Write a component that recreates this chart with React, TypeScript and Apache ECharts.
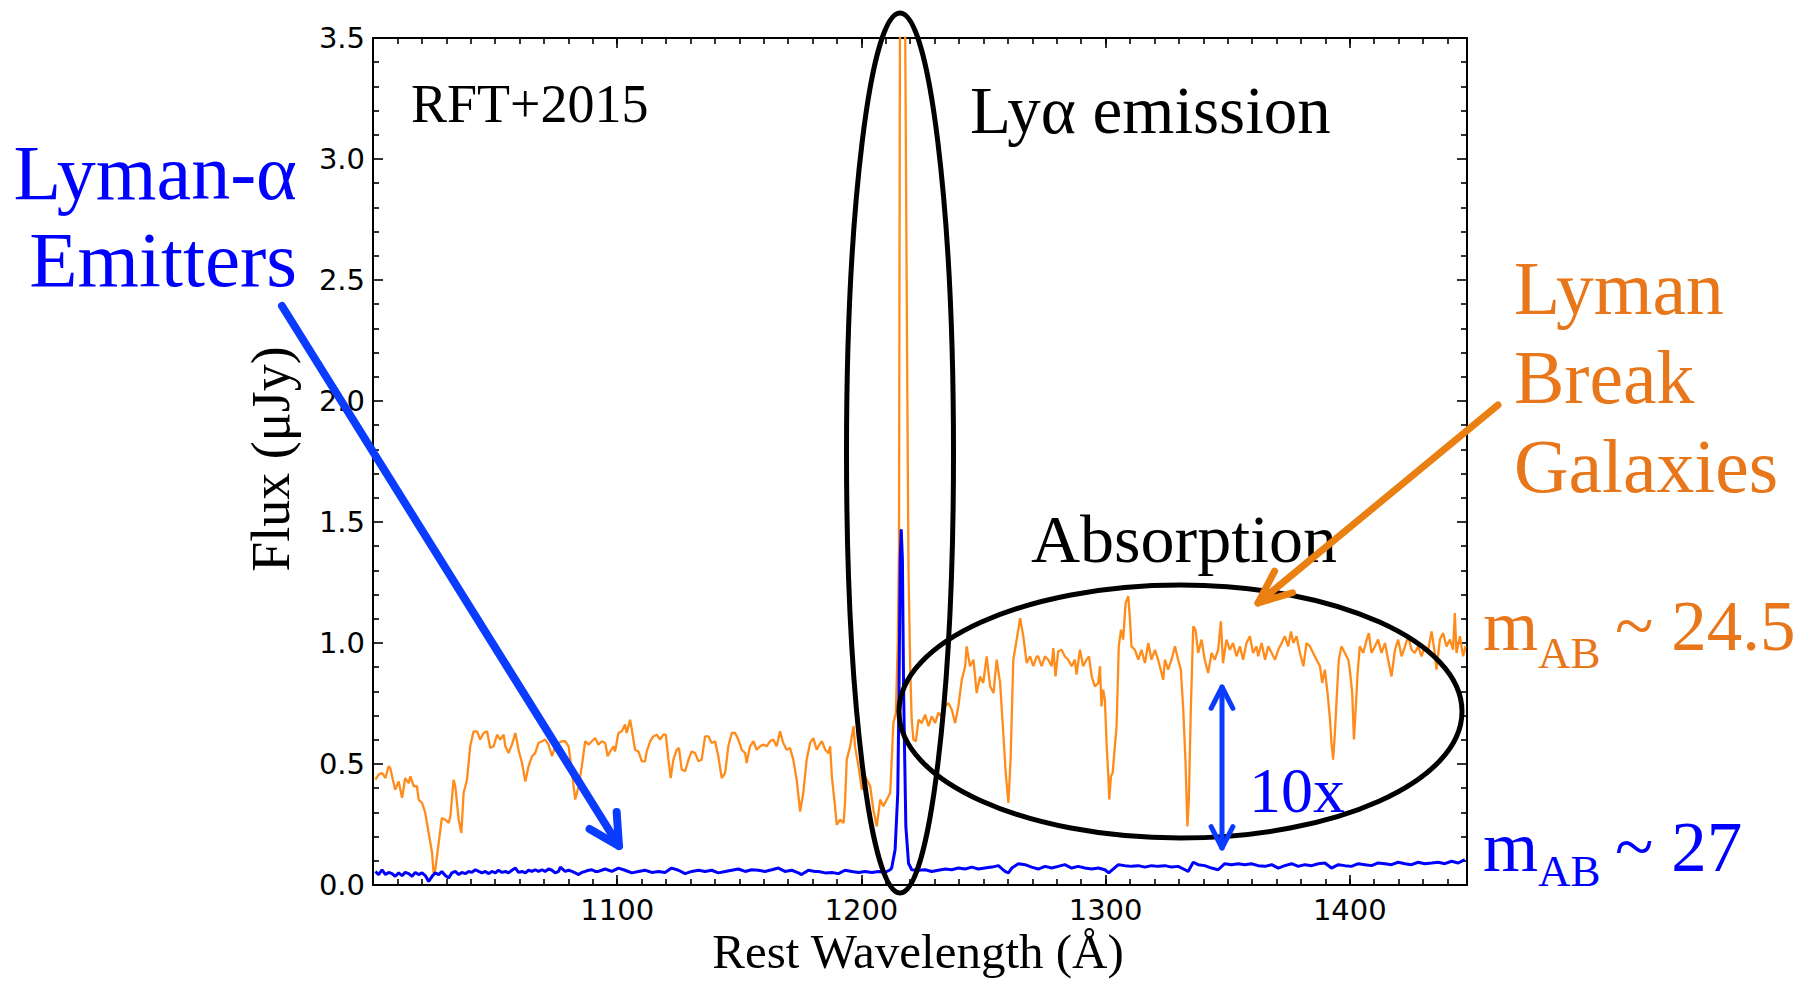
import React, { useEffect, useRef } from "react";
import * as echarts from "echarts";

// Lyman Break Galaxy composite spectrum (orange): [rest wavelength Å, flux µJy]
const lbgSpectrum: [number, number][] = [
  [1001.0,0.435],[1002.3,0.456],[1003.7,0.463],[1005.1,0.442],[1006.4,0.490],[1007.1,0.483],[1007.8,0.449],[1009.1,0.394],
  [1010.5,0.428],[1011.9,0.360],[1013.2,0.442],[1014.6,0.421],[1015.3,0.449],[1016.7,0.408],[1018.0,0.408],[1018.7,0.353],
  [1020.1,0.339],[1021.4,0.298],[1022.8,0.215],[1024.2,0.132],[1024.8,0.050],[1025.5,0.063],[1026.9,0.174],[1028.2,0.277],
  [1029.6,0.270],[1031.0,0.256],[1031.7,0.284],[1033.0,0.435],[1033.7,0.408],[1035.1,0.270],[1036.2,0.215],[1037.1,0.380],
  [1038.5,0.435],[1039.8,0.573],[1041.2,0.635],[1042.6,0.635],[1043.9,0.601],[1045.3,0.628],[1046.7,0.635],[1048.0,0.566],
  [1049.4,0.573],[1050.8,0.621],[1052.1,0.601],[1053.5,0.621],[1054.2,0.573],[1055.5,0.545],[1056.9,0.580],[1058.3,0.628],
  [1059.6,0.559],[1061.0,0.504],[1062.4,0.428],[1063.7,0.490],[1065.1,0.532],[1066.4,0.545],[1067.8,0.587],[1069.2,0.594],
  [1070.5,0.601],[1071.9,0.580],[1073.3,0.532],[1074.6,0.573],[1076.0,0.587],[1077.4,0.594],[1078.7,0.594],[1080.1,0.573],
  [1081.5,0.463],[1082.8,0.353],[1084.2,0.408],[1085.5,0.490],[1086.9,0.594],[1088.3,0.580],[1089.6,0.594],[1091.0,0.607],
  [1092.3,0.580],[1093.7,0.594],[1095.1,0.587],[1096.1,0.532],[1097.1,0.552],[1098.5,0.573],[1099.1,0.552],[1100.5,0.628],
  [1101.9,0.635],[1103.2,0.663],[1103.9,0.628],[1105.3,0.683],[1106.0,0.642],[1107.3,0.559],[1108.7,0.552],[1110.1,0.511],
  [1111.4,0.511],[1112.1,0.552],[1113.5,0.594],[1114.8,0.614],[1116.2,0.621],[1117.6,0.601],[1118.9,0.621],[1119.9,0.621],
  [1121.0,0.518],[1121.9,0.442],[1123.0,0.518],[1124.4,0.559],[1125.3,0.566],[1126.4,0.477],[1127.8,0.470],[1129.2,0.518],
  [1130.5,0.552],[1131.9,0.545],[1133.3,0.511],[1134.6,0.518],[1136.0,0.614],[1137.4,0.614],[1138.7,0.587],[1140.1,0.594],
  [1141.4,0.532],[1142.8,0.442],[1144.2,0.463],[1145.5,0.573],[1146.9,0.628],[1148.3,0.628],[1149.6,0.601],[1151.0,0.559],
  [1152.4,0.545],[1153.0,0.504],[1154.4,0.573],[1155.8,0.594],[1157.1,0.559],[1158.5,0.573],[1159.9,0.580],[1161.2,0.573],
  [1162.6,0.594],[1163.9,0.601],[1165.3,0.573],[1166.7,0.635],[1168.0,0.587],[1169.4,0.559],[1170.8,0.566],[1172.1,0.518],
  [1173.5,0.435],[1174.9,0.304],[1176.2,0.380],[1177.6,0.518],[1179.0,0.587],[1180.3,0.607],[1181.7,0.559],[1182.4,0.573],
  [1183.8,0.594],[1185.2,0.559],[1186.5,0.545],[1187.2,0.573],[1187.9,0.449],[1189.2,0.325],[1189.9,0.249],[1191.3,0.270],
  [1192.7,0.256],[1193.3,0.339],[1194.0,0.518],[1195.4,0.573],[1196.8,0.656],[1197.4,0.573],[1198.8,0.490],[1200.2,0.394],
  [1201.5,0.449],[1203.6,0.408],[1204.9,0.311],[1206.3,0.242],[1207.7,0.353],[1209.0,0.325],[1210.4,0.353],[1211.8,0.380],
  [1213.1,0.669],[1214.1,0.711],[1214.9,1.000],[1215.4,1.400],[1215.8,3.600],[1216.6,7.500],[1217.3,7.000],[1217.9,3.600],
  [1218.7,2.200],[1219.3,1.300],[1220.0,0.890],[1220.6,0.683],[1221.3,0.601],[1222.3,0.594],[1223.4,0.683],[1224.7,0.669],
  [1226.1,0.704],[1227.5,0.656],[1228.8,0.697],[1230.2,0.669],[1231.5,0.711],[1232.9,0.697],[1234.3,0.738],[1235.6,0.752],
  [1237.0,0.725],[1238.4,0.669],[1239.7,0.738],[1241.1,0.848],[1242.5,0.904],[1243.1,0.986],[1244.5,0.904],[1245.9,0.931],
  [1247.2,0.793],[1248.6,0.862],[1249.9,0.835],[1251.3,0.945],[1252.7,0.821],[1254.1,0.793],[1255.4,0.931],[1256.8,0.835],
  [1258.1,0.628],[1259.1,0.463],[1260.2,0.339],[1261.1,0.518],[1262.2,0.931],[1263.6,1.014],[1265.0,1.103],[1266.3,1.028],
  [1267.7,0.917],[1269.1,0.945],[1270.4,0.904],[1271.8,0.945],[1272.4,0.945],[1273.8,0.904],[1275.2,0.945],[1276.5,0.931],
  [1277.9,0.904],[1278.6,0.979],[1279.5,0.862],[1280.6,0.966],[1282.0,0.972],[1283.3,0.945],[1284.7,0.931],[1286.1,0.904],
  [1287.4,0.931],[1288.1,0.869],[1289.5,0.972],[1290.8,0.904],[1292.2,0.931],[1293.2,0.945],[1294.3,0.862],[1295.6,0.821],
  [1297.0,0.835],[1297.7,0.904],[1298.3,0.738],[1299.0,0.807],[1299.7,0.766],[1300.4,0.587],[1301.1,0.449],[1301.5,0.353],
  [1302.2,0.449],[1302.9,0.463],[1303.8,0.573],[1304.5,0.656],[1305.4,0.986],[1306.3,1.055],[1307.2,1.014],[1308.2,1.165],
  [1309.3,1.193],[1309.9,1.110],[1310.6,0.986],[1312.0,0.972],[1313.4,0.931],[1314.7,0.972],[1316.1,0.917],[1317.5,1.000],
  [1318.8,0.931],[1320.2,0.972],[1321.5,0.931],[1322.9,0.876],[1323.6,0.848],[1324.3,0.931],[1325.6,0.890],[1327.0,0.931],
  [1328.4,0.986],[1329.7,0.931],[1330.8,0.890],[1331.8,0.725],[1332.7,0.518],[1333.5,0.242],[1334.1,0.353],[1334.9,0.725],
  [1335.9,1.069],[1336.8,1.055],[1337.9,0.959],[1339.3,1.014],[1340.6,0.931],[1342.0,0.876],[1343.4,0.959],[1344.7,0.931],
  [1346.1,0.972],[1347.2,1.090],[1348.1,0.917],[1349.5,1.014],[1350.9,0.972],[1352.2,1.000],[1353.6,0.945],[1355.0,0.986],
  [1356.3,0.931],[1357.7,1.000],[1359.1,1.028],[1360.4,0.959],[1361.8,0.986],[1362.5,0.945],[1363.9,1.000],[1365.3,0.931],
  [1366.6,0.986],[1368.0,0.959],[1369.4,0.931],[1370.7,0.972],[1372.1,1.000],[1373.4,1.028],[1374.8,0.986],[1375.9,1.048],
  [1376.9,1.000],[1378.2,1.028],[1379.6,0.959],[1381.0,0.904],[1382.3,1.000],[1383.7,0.986],[1385.0,0.959],[1386.4,0.931],
  [1387.8,0.904],[1388.7,0.835],[1389.8,0.890],[1390.9,0.793],[1391.9,0.683],[1392.5,0.587],[1393.2,0.518],[1393.9,0.628],
  [1394.6,0.766],[1395.5,0.931],[1396.6,0.986],[1398.0,0.959],[1399.4,0.931],[1400.0,0.890],[1401.0,0.793],[1401.7,0.601],
  [1402.4,0.725],[1403.2,0.876],[1404.1,0.986],[1405.5,0.959],[1406.9,1.014],[1407.8,1.041],[1408.9,0.959],[1410.3,0.986],
  [1411.6,1.014],[1413.0,0.959],[1414.4,1.000],[1415.7,0.931],[1417.1,0.862],[1418.5,0.972],[1419.8,1.014],[1421.2,0.945],
  [1422.6,0.986],[1423.9,1.028],[1425.3,0.972],[1426.6,0.959],[1428.0,0.986],[1429.4,0.945],[1430.7,0.986],[1432.1,0.972],
  [1433.5,1.048],[1434.8,0.959],[1435.5,0.890],[1436.9,1.014],[1438.2,1.041],[1439.6,0.986],[1441.0,1.014],[1442.3,0.972],
  [1443.0,1.124],[1443.7,0.959],[1445.1,1.028],[1446.4,0.945],[1447.4,0.986]
];

// Lyman-alpha emitter spectrum (blue): [rest wavelength Å, flux µJy]
const laeSpectrum: [number, number][] = [
  [1001.0,0.056],[1002.3,0.043],[1003.7,0.063],[1005.1,0.043],[1006.4,0.052],[1007.8,0.047],[1009.1,0.036],[1010.5,0.050],
  [1011.9,0.039],[1013.2,0.052],[1014.6,0.047],[1016.0,0.036],[1017.3,0.052],[1018.7,0.043],[1020.1,0.050],[1021.4,0.039],
  [1022.8,0.015],[1024.2,0.036],[1025.5,0.050],[1026.9,0.043],[1028.2,0.056],[1029.6,0.039],[1031.0,0.029],[1032.3,0.050],
  [1033.7,0.056],[1035.1,0.043],[1036.4,0.052],[1037.8,0.047],[1039.2,0.056],[1040.5,0.052],[1041.9,0.063],[1043.3,0.056],
  [1044.6,0.050],[1046.0,0.056],[1047.4,0.047],[1048.7,0.056],[1050.1,0.050],[1051.4,0.061],[1052.8,0.052],[1054.2,0.056],
  [1055.5,0.050],[1056.9,0.061],[1058.3,0.070],[1059.6,0.052],[1061.0,0.056],[1062.4,0.050],[1063.7,0.061],[1065.1,0.056],
  [1066.4,0.063],[1067.8,0.056],[1069.2,0.063],[1070.5,0.056],[1071.9,0.066],[1073.3,0.061],[1074.6,0.050],[1076.0,0.056],
  [1076.7,0.074],[1078.7,0.056],[1080.1,0.061],[1081.5,0.056],[1082.8,0.050],[1084.2,0.043],[1085.5,0.052],[1086.9,0.056],
  [1088.3,0.061],[1089.6,0.063],[1091.0,0.056],[1092.3,0.056],[1095.1,0.066],[1097.8,0.056],[1100.5,0.070],[1103.2,0.061],
  [1106.0,0.050],[1108.7,0.056],[1111.4,0.061],[1114.2,0.052],[1116.9,0.056],[1119.6,0.052],[1122.3,0.070],[1125.1,0.061],
  [1127.8,0.047],[1130.5,0.056],[1133.3,0.061],[1136.0,0.056],[1138.7,0.061],[1141.4,0.050],[1144.2,0.056],[1146.9,0.061],
  [1149.6,0.066],[1152.4,0.056],[1155.1,0.063],[1157.8,0.061],[1160.5,0.056],[1163.3,0.063],[1166.0,0.070],[1168.7,0.056],
  [1171.5,0.061],[1174.2,0.050],[1175.5,0.043],[1178.3,0.061],[1181.0,0.056],[1182.4,0.056],[1185.2,0.050],[1187.9,0.052],
  [1190.6,0.047],[1193.3,0.061],[1196.1,0.056],[1198.8,0.052],[1201.5,0.056],[1204.3,0.052],[1207.0,0.056],[1209.7,0.052],
  [1211.8,0.063],[1212.4,0.070],[1213.8,0.146],[1214.9,0.380],[1215.4,0.793],[1215.9,1.344],[1216.3,1.470],[1216.8,1.344],
  [1217.3,0.793],[1218.2,0.242],[1219.3,0.090],[1220.6,0.063],[1223.4,0.061],[1226.1,0.063],[1228.8,0.056],[1231.5,0.061],
  [1234.3,0.066],[1237.0,0.063],[1239.7,0.070],[1242.5,0.066],[1245.2,0.074],[1247.9,0.066],[1250.6,0.070],[1253.4,0.074],
  [1256.1,0.080],[1258.8,0.056],[1260.2,0.050],[1261.6,0.070],[1264.3,0.088],[1267.0,0.084],[1269.7,0.074],[1272.4,0.066],
  [1275.2,0.077],[1277.9,0.070],[1280.6,0.077],[1283.3,0.084],[1286.1,0.070],[1288.8,0.077],[1291.5,0.070],[1294.3,0.066],
  [1297.0,0.070],[1299.7,0.063],[1301.3,0.050],[1303.1,0.066],[1305.2,0.084],[1307.9,0.080],[1310.6,0.077],[1313.4,0.080],
  [1316.1,0.074],[1318.8,0.080],[1321.5,0.077],[1324.3,0.080],[1327.0,0.074],[1329.7,0.077],[1332.5,0.063],[1333.8,0.056],
  [1335.9,0.094],[1337.9,0.084],[1340.6,0.080],[1343.4,0.070],[1346.1,0.063],[1348.8,0.088],[1351.5,0.084],[1354.3,0.088],
  [1357.0,0.084],[1359.7,0.088],[1362.5,0.080],[1365.3,0.077],[1368.0,0.084],[1370.7,0.070],[1373.4,0.080],[1376.2,0.088],
  [1378.9,0.077],[1381.6,0.084],[1384.4,0.080],[1387.1,0.088],[1389.8,0.091],[1392.5,0.070],[1395.3,0.084],[1398.0,0.080],
  [1400.7,0.077],[1403.5,0.088],[1406.2,0.084],[1408.9,0.080],[1411.6,0.091],[1414.4,0.088],[1417.1,0.084],[1419.8,0.094],
  [1422.6,0.088],[1425.3,0.084],[1428.0,0.094],[1430.7,0.088],[1433.5,0.091],[1436.2,0.094],[1438.9,0.088],[1441.7,0.098],
  [1444.4,0.091],[1447.1,0.105]
];

const xMin = 1000;
const xMax = 1448;
const yMin = 0;
const yMax = 3.5;
const xTickLabels = [1100, 1200, 1300, 1400];
const yTickLabels = ["0.0", "0.5", "1.0", "1.5", "2.0", "2.5", "3.0", "3.5"];

const SERIF = "'Liberation Serif', 'Times New Roman', serif";
const SANS = "'DejaVu Sans', sans-serif";
const K_SERIF = 0.3375;

const ORANGE_LINE = "#ff8c1a";
const ORANGE_TEXT = "#e8761a";
const ORANGE_ARROW = "#ea8012";
const BLUE_LINE = "#0000ff";
const BLUE_TEXT = "#0000ff";
const BLUE_ARROW = "#0a3cff";

function txt(str: string, x: number, baseline: number, size: number, color: string, align = "left") {
  return {
    type: "text",
    x,
    y: baseline - K_SERIF * size,
    z: 100,
    silent: true,
    style: {
      text: str,
      font: `${size}px ${SERIF}`,
      fill: color,
      align,
      verticalAlign: "middle",
      textAlign: align,
      textVerticalAlign: "middle",
    },
  };
}

function arrow(x1: number, y1: number, x2: number, y2: number, color: string, width: number, headLen: number, headDeg: number, both = false) {
  const els: any[] = [];
  const style = { stroke: color, lineWidth: width, fill: "none", lineCap: "round", lineJoin: "round" };
  els.push({ type: "line", z: 110, silent: true, shape: { x1, y1, x2, y2 }, style });
  const head = (tx: number, ty: number, fx: number, fy: number) => {
    const a = Math.atan2(fy - ty, fx - tx);
    const h = (headDeg * Math.PI) / 180;
    return {
      type: "polyline",
      z: 110,
      silent: true,
      shape: {
        points: [
          [tx + headLen * Math.cos(a + h), ty + headLen * Math.sin(a + h)],
          [tx, ty],
          [tx + headLen * Math.cos(a - h), ty + headLen * Math.sin(a - h)],
        ],
      },
      style,
    };
  };
  els.push(head(x2, y2, x1, y1));
  if (both) els.push(head(x1, y1, x2, y2));
  return els;
}

function xAxisCfg(position: string, interval: number, tickLen: number, showLabels: boolean, showLine: boolean) {
  return {
    type: "value",
    position,
    min: xMin,
    max: xMax,
    interval,
    axisLine: { show: showLine, onZero: false, lineStyle: { color: "#000", width: 2 } },
    axisTick: { show: true, inside: true, length: tickLen, lineStyle: { color: "#000", width: 1.6 } },
    axisLabel: {
      show: showLabels,
      margin: 10,
      showMinLabel: false,
      showMaxLabel: false,
      color: "#000",
      fontSize: 29,
      fontFamily: SANS,
      formatter: (v: number) => (xTickLabels.indexOf(Math.round(v)) >= 0 ? String(Math.round(v)) : ""),
    },
    splitLine: { show: false },
  };
}

function yAxisCfg(position: string, showLabels: boolean) {
  return {
    type: "value",
    position,
    min: yMin,
    max: yMax,
    interval: 0.5,
    axisLine: { show: true, onZero: false, lineStyle: { color: "#000", width: 2 } },
    axisTick: { show: true, inside: true, length: 10, lineStyle: { color: "#000", width: 1.6 } },
    minorTick: { show: true, splitNumber: 5, length: 6, lineStyle: { color: "#000", width: 1.6 } },
    axisLabel: {
      show: showLabels,
      margin: 8,
      color: "#000",
      fontSize: 29,
      fontFamily: SANS,
      formatter: (v: number) => yTickLabels[Math.round(v / 0.5)] ?? "",
    },
    splitLine: { show: false },
    minorSplitLine: { show: false },
  };
}

export default function App() {
  const ref = useRef<HTMLDivElement>(null);
  useEffect(() => {
    if (!ref.current) return;
    const chart = echarts.init(ref.current, null, { renderer: "svg" });
    const graphic: any[] = [
      // ellipses
      { type: "ellipse", z: 100, silent: true, shape: { cx: 900, cy: 453, rx: 53.5, ry: 440 }, style: { fill: "none", stroke: "#000", lineWidth: 5 } },
      { type: "ellipse", z: 100, silent: true, shape: { cx: 1180.5, cy: 711.5, rx: 281.5, ry: 126.5 }, style: { fill: "none", stroke: "#000", lineWidth: 5 } },
      // arrows
      ...arrow(282, 306, 619, 846, BLUE_ARROW, 8, 34, 28),
      ...arrow(1498, 405, 1258, 603, ORANGE_ARROW, 7, 36, 23),
      ...arrow(1222, 687, 1222, 848, BLUE_ARROW, 5, 24, 27, true),
      // texts
      txt("RFT+2015", 411, 122.7, 54, "#000"),
      txt("Lyα emission", 970, 132.7, 67, "#000"),
      txt("Absorption", 1031, 562, 68, "#000"),
      txt("Lyman-α", 297, 199, 78, BLUE_TEXT, "right"),
      txt("Emitters", 297, 286, 79, BLUE_TEXT, "right"),
      txt("Lyman", 1514, 314, 75.5, ORANGE_TEXT),
      txt("Break", 1514, 403, 75.5, ORANGE_TEXT),
      txt("Galaxies", 1514, 492, 75.5, ORANGE_TEXT),
      txt("m", 1483, 650, 71, ORANGE_TEXT),
      txt("AB", 1538, 668, 45, ORANGE_TEXT),
      txt("~ 24.5", 1615, 650, 71, ORANGE_TEXT),
      txt("m", 1483, 870.5, 71, BLUE_TEXT),
      txt("AB", 1538, 886.5, 45, BLUE_TEXT),
      txt("~ 27", 1615, 870.5, 71, BLUE_TEXT),
      txt("10x", 1249, 811.7, 64, BLUE_TEXT),
      // axis titles
      txt("Rest Wavelength (Å)", 918, 968, 49, "#000", "center"),
      {
        type: "text",
        x: 271,
        y: 459,
        rotation: Math.PI / 2,
        z: 100,
        silent: true,
        style: {
          text: "Flux (μJy)",
          font: `54px ${SERIF}`,
          fill: "#000",
          align: "center",
          verticalAlign: "middle",
          textAlign: "center",
          textVerticalAlign: "middle",
        },
      },
    ];
    chart.setOption({
      animation: false,
      backgroundColor: "#fff",
      grid: { left: 373, top: 38, width: 1094, height: 847, containLabel: false },
      xAxis: [
        xAxisCfg("bottom", 100, 10, true, true),
        xAxisCfg("bottom", 10, 6, false, false),
        xAxisCfg("top", 100, 10, false, true),
        xAxisCfg("top", 10, 6, false, false),
      ],
      yAxis: [yAxisCfg("left", true), yAxisCfg("right", false)],
      series: [
        {
          type: "line",
          name: "LBG",
          xAxisIndex: 0,
          yAxisIndex: 0,
          data: lbgSpectrum,
          showSymbol: false,
          symbol: "none",
          clip: true,
          lineStyle: { color: ORANGE_LINE, width: 2.3 },
          z: 2,
        },
        {
          type: "line",
          name: "LAE",
          xAxisIndex: 0,
          yAxisIndex: 0,
          data: laeSpectrum,
          showSymbol: false,
          symbol: "none",
          clip: true,
          lineStyle: { color: BLUE_LINE, width: 3 },
          z: 3,
        },
      ],
      graphic,
    });
    return () => chart.dispose();
  }, []);
  return <div ref={ref} style={{ position: "fixed", left: 0, top: 0, width: 1804, height: 981 }} />;
}
